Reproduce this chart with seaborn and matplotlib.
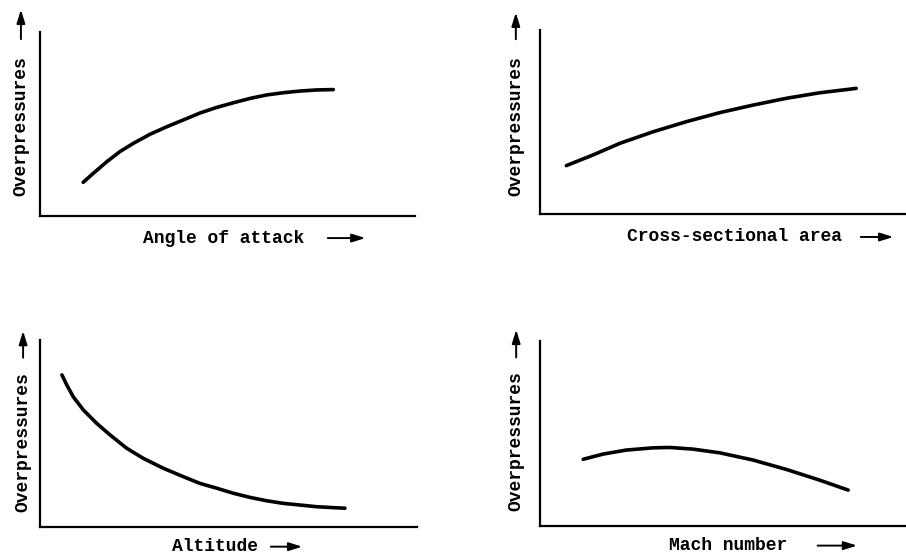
import matplotlib
matplotlib.use("Agg")
import matplotlib.pyplot as plt
import pandas as pd
import seaborn as sns

# Curve shapes, axes run 0-10 in both directions
angle_x = [1.15, 1.42, 1.78, 2.13, 2.49, 2.93, 3.38, 3.82, 4.27, 4.71,
           5.15, 5.60, 6.05, 6.49, 6.93, 7.38, 7.82]
angle_y = [1.83, 2.32, 2.95, 3.50, 3.95, 4.44, 4.85, 5.22, 5.60, 5.90,
           6.15, 6.39, 6.58, 6.70, 6.79, 6.85, 6.87]

area_x = [0.72, 1.45, 2.18, 3.09, 4.00, 4.91, 5.82, 6.73, 7.64, 8.64]
area_y = [2.63, 3.21, 3.84, 4.47, 5.02, 5.51, 5.92, 6.29, 6.59, 6.83]

altitude_x = [0.58, 0.71, 0.88, 1.15, 1.50, 1.86, 2.30, 2.74, 3.27, 3.80,
              4.24, 4.69, 5.13, 5.57, 6.01, 6.45, 6.90, 7.34, 7.78, 8.09]
altitude_y = [8.13, 7.59, 6.96, 6.25, 5.54, 4.91, 4.20, 3.66, 3.13, 2.68,
              2.32, 2.06, 1.79, 1.57, 1.39, 1.25, 1.16, 1.07, 1.02, 0.99]

mach_x = [1.17, 1.71, 2.35, 3.08, 3.54, 4.17, 4.90, 5.81, 6.72, 7.63, 8.41]
mach_y = [3.60, 3.88, 4.10, 4.22, 4.24, 4.15, 3.95, 3.56, 3.05, 2.47, 1.93]

x_labels = ["Angle of attack", "Cross-sectional area", "Altitude", "Mach number"]
y_label = "Overpressures"

sns.set_style("white")
plt.rcParams["font.family"] = ["Liberation Mono", "DejaVu Sans Mono"]

fig = plt.figure(figsize=(9.06, 5.59), dpi=100)

# panel boxes [left, bottom, width, height]
boxes = [
    [0.0442, 0.6136, 0.4139, 0.3292],
    [0.5960, 0.6172, 0.4040, 0.3290],
    [0.0442, 0.0578, 0.4160, 0.3340],
    [0.5964, 0.0596, 0.4040, 0.3300],
]
# label placement: (xlabel center x, xlabel y, x-arrow start, x-arrow end,
#                   ylabel x, ylabel center y, y-arrow start, y-arrow end)
label_pos = [
    (0.49, -0.12, 0.76, 0.875, -0.051, 0.486, 0.946, 1.136),
    (0.531, -0.125, 0.869, 0.973, -0.066, 0.476, 0.935, 1.11),
    (0.464, -0.107, 0.605, 0.703, -0.045, 0.451, 0.89, 1.063),
    (0.514, -0.108, 0.75, 0.873, -0.066, 0.456, 0.897, 1.077),
]
curves = [(angle_x, angle_y), (area_x, area_y),
          (altitude_x, altitude_y), (mach_x, mach_y)]

arrow_style = "-|>,head_length=0.8,head_width=0.25"

for box, (cx, cy), xlab, pos in zip(boxes, curves, x_labels, label_pos):
    ax = fig.add_axes(box)
    df = pd.DataFrame({"x": cx, "y": cy})
    sns.lineplot(data=df, x="x", y="y", color="black", linewidth=2.6,
                 sort=False, ax=ax)
    ax.lines[-1].set_solid_capstyle("round")
    ax.lines[-1].set_solid_joinstyle("round")
    ax.set_xlim(0, 10)
    ax.set_ylim(0, 10)
    ax.set_xticks([])
    ax.set_yticks([])
    ax.set_xlabel("")
    ax.set_ylabel("")
    sns.despine(ax=ax)
    for side in ["left", "bottom"]:
        ax.spines[side].set_color("black")
        ax.spines[side].set_linewidth(1.6)

    xc, xy, xa0, xa1, yx, yc, ya0, ya1 = pos
    ax.text(xc, xy, xlab, transform=ax.transAxes, ha="center", va="center",
            fontsize=13, fontweight="bold", color="black")
    ax.annotate("", xy=(xa1, xy), xytext=(xa0, xy), xycoords="axes fraction",
                textcoords="axes fraction", annotation_clip=False,
                arrowprops=dict(arrowstyle=arrow_style, color="black", lw=1.4))
    ax.text(yx, yc, y_label, transform=ax.transAxes, ha="center", va="center",
            rotation=90, fontsize=13, fontweight="bold", color="black")
    ax.annotate("", xy=(yx, ya1), xytext=(yx, ya0), xycoords="axes fraction",
                textcoords="axes fraction", annotation_clip=False,
                arrowprops=dict(arrowstyle=arrow_style, color="black", lw=1.4))

fig.savefig("out.png", dpi=100)
